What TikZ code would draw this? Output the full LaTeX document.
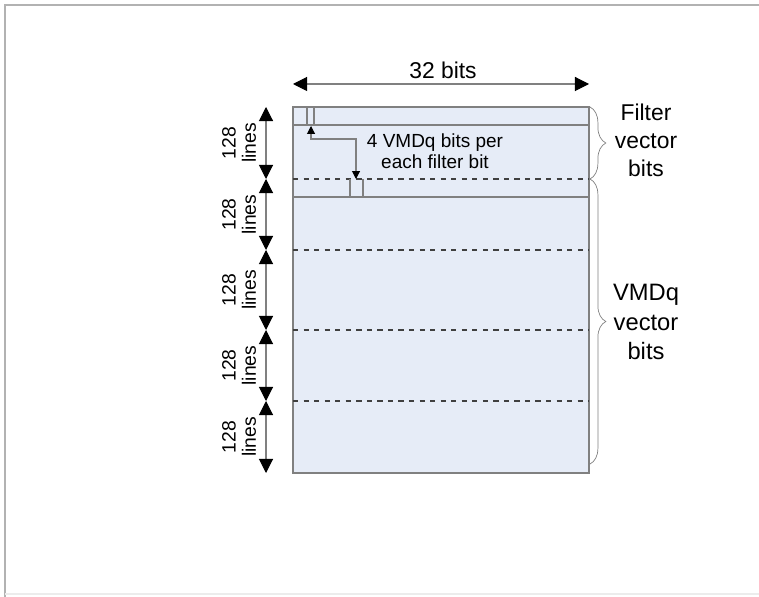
\documentclass[tikz,border=0pt]{standalone}
\usepackage{fontspec}
\setmainfont{Liberation Sans}
\usetikzlibrary{
  arrows.meta,           % Triangle tips
  decorations.pathreplacing % Braces
}
\definecolor{vecfill}{RGB}{230,236,247}
\definecolor{rowline}{RGB}{128,128,128}

\begin{document}
\begin{tikzpicture}[x=0.02cm, y=-0.02cm,
    dimarrow/.style={rowline, {Triangle[black, length=8pt, width=8pt]}-{Triangle[black, length=8pt, width=8pt]}},
    smallarrow/.style={rowline, {Triangle[black, length=4.5pt, width=4.5pt]}-{Triangle[black, length=4.5pt, width=4.5pt]}},
    rowsep/.style={rowline, thick},
    halfsep/.style={black!75, dashed, thick},
    bracestyle/.style={rowline, decorate, decoration={brace, amplitude=9pt}}]
  \useasboundingbox (0,0) rectangle (759,597);
  % outer frame
  \draw[gray!60, line width=1.3pt] (5,597) -- (5,5) -- (759,5);
  \draw[gray!15, line width=1pt] (5,594) -- (759,594);

  % the table
  \draw[rowsep, fill=vecfill] (293,107) rectangle (589,473);
  \draw[rowsep] (293,125) -- (589,125);
  \draw[rowsep] (293,197) -- (589,197);
  \foreach \y in {179,250,330,401}
    \draw[halfsep] (293,\y) -- (589,\y);
  \foreach \x in {307,314}
    \draw[rowsep, semithick] (\x,107) -- (\x,125);
  \foreach \x in {350,363}
    \draw[rowsep, semithick] (\x,179) -- (\x,197);

  % filter bit to VMDq bits
  \coordinate (fbit) at (311,126);
  \coordinate (vbits) at (356,179);
  \draw[smallarrow, semithick] (fbit) |- (356,139) -- (vbits);
  \node[font=\fontsize{10.8}{12}\selectfont, align=center] (note) at (435,151)
    {4 VMDq bits per\\each filter bit};

  % width
  \draw[dimarrow, semithick] (293,84) -- (589,84);
  \node[font=\fontsize{13}{14}\selectfont] (width) at (443,70) {32 bits};

  % heights
  \foreach \a/\b [count=\i] in {107/179,179/250,250/330,330/401,401/473} {
    \draw[dimarrow, semithick] (266,\a) -- (266,\b);
    \node[rotate=90, font=\fontsize{11}{11.5}\selectfont, align=center] (h\i)
      at (239,{(\a+\b)/2}) {128\\lines};
  }

  % braces
  \draw[bracestyle] (590,107) -- (590,179);
  \draw[bracestyle] (590,179) -- (590,464);
  \node[font=\fontsize{13}{16}\selectfont, align=center] (filt) at (646,140)
    {Filter\\vector\\bits};
  \node[font=\fontsize{13.5}{17}\selectfont, align=center] (vmdq) at (646,322)
    {VMDq\\vector\\bits};
\end{tikzpicture}
\end{document}
